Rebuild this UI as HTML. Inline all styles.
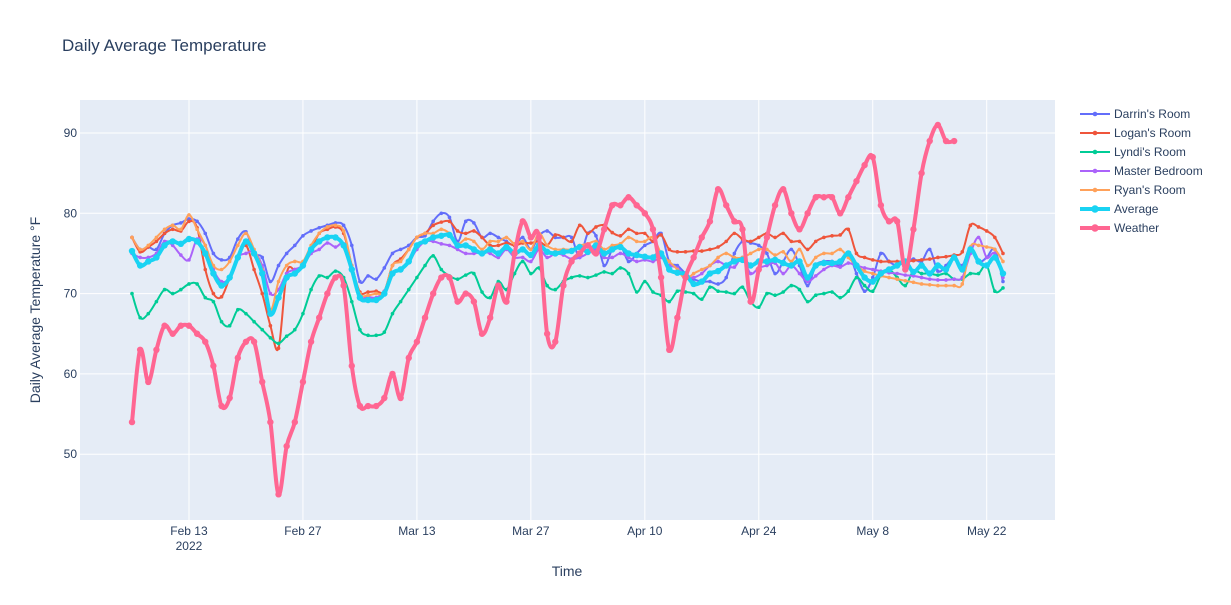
<!DOCTYPE html>
<html><head><meta charset="utf-8">
<style>
body{margin:0;background:#fff;font-family:"Liberation Sans",Arial,sans-serif;}
svg text{font-family:"Liberation Sans",Arial,sans-serif;}
</style></head>
<body>
<svg id="chart" width="1231" height="600" xmlns="http://www.w3.org/2000/svg">
<rect width="1231" height="600" fill="#fff"/>
<text x="62" y="51" font-size="17" fill="#2a3f5f">Daily Average Temperature</text>
<rect x="80" y="100" width="975" height="420" fill="#e5ecf6"/>
<g id="grid"></g>
<g id="series"></g>
<text x="567" y="576" font-size="14" fill="#2a3f5f" text-anchor="middle">Time</text>
<text transform="translate(40,310) rotate(-90)" font-size="14" fill="#2a3f5f" text-anchor="middle">Daily Average Temperature °F</text>
<g id="legend"></g>
</svg>
<script>
const tickDays=[7,21,35,49,63,77,91,105];
const tickLabels=["Feb 13","Feb 27","Mar 13","Mar 27","Apr 10","Apr 24","May 8","May 22"];
const yTicks=[50,60,70,80,90];
const seriesNames=["Darrin's Room","Logan's Room","Lyndi's Room","Master Bedroom","Ryan's Room","Average","Weather"];
const darrin=[77,75.5,75.8,75.5,77.5,78.5,78.8,79.3,79,77.5,75,74.2,74.5,76.8,77.7,75,74.5,71.5,73.5,75,76,77.2,77.8,78.2,78.5,78.8,78.5,76,71.5,72.2,71.8,73.2,75,75.5,76,77,77.2,79,80,79.5,76.5,79,78.8,77,77.5,77,76.5,76,77,75.5,77.2,77.8,77,77,77,74.5,77.5,77.2,73.5,75.5,76,74,75,76,76.5,77.5,74,73.5,72.5,71.8,71.5,71.5,71.2,72,75,76.5,76.3,76,75,72.5,74,75.5,73.5,71,73.5,74,74,73.5,75,72.5,70.3,72,75,74,73.5,74,74.3,74,75.5,72.8,73.5,74.5,73.5,75.8,74,74.5,75.5,71.5];
const logan=[77,75.2,75.8,76.5,77.5,78,77.8,79,78.2,73,70,69.6,72,74.5,76,73,70,66,63.2,72.5,73,73.5,75.5,77.5,78,78.3,77.5,73.5,70.2,70.2,70.3,70.3,73.5,74.3,75.5,77,77.5,78.5,78.9,79,77.8,77.5,77.8,77,76,76,76.3,76,76.3,76.3,76.5,76,77.3,77,76.5,78.5,77.5,78.3,78.5,77.6,77.2,78,77.5,77.5,76.5,77.3,75.5,75.2,75.2,75.3,75.3,75.5,75.8,76.5,77.5,76.8,76.5,77,77.5,77,77.5,76.5,76.5,75.5,76.5,77,77.2,77.3,78,75,74.5,74.2,74,74,74,74,74.1,74.2,74.3,74.5,74.6,74.8,75.2,78.5,78.3,77.8,77,75];
const lyndi=[70,67,67.5,69,70.5,70,70.5,71.2,71.2,69.5,69,66.5,66,68,67.5,66.5,65.5,64.5,63.8,64.7,65.5,67.5,70.5,72.2,72,72.8,72,69,65.5,64.8,64.8,65.2,67.5,69,70.5,72,73.5,74.7,73,72.2,71.8,72.3,72.5,70.2,69.5,71.5,70.5,72.5,74,72.5,73.2,71,70.5,71.5,72,72.2,72,72.3,72.7,72.5,73.2,72.5,70.2,71.5,70.2,69.8,69,70.3,70.2,70,69.3,70.8,70.3,70.2,70,70.8,69,68.3,70,69.8,70.2,71,70.5,69,69.8,70,70.2,69.5,70.3,72,71,70.3,72.3,73,72,71,72.8,72.5,72.5,72.3,72.5,71.8,71.8,72.5,72.5,73.5,70.3,70.7];
const master=[75,74.5,74.5,75,76.5,76,74.8,74.2,76.8,76,73,71.5,72,74.5,75,75.2,73.5,70,70.5,72.5,73,73.5,75,75.5,76.3,75.8,76.2,73.5,69.7,69.6,69.5,70.3,72.5,73,74,75.5,76.5,76.5,76.2,76,75.5,75,75,75.2,75,74.5,75.5,74.5,74.5,74,75.5,74.5,75,74.8,74.3,74.5,75,75.5,74.5,74.5,75,74.5,74,74.2,74,74.5,73.5,73.2,72,72,72.5,73.5,74,73.5,73.3,74.5,72.5,73.2,73.5,73.8,72.5,73.5,72.5,71.5,72.2,73,73.5,73.3,73.8,73.5,73.2,73,72.8,72.6,72.5,72.3,72.2,72,71.8,71.7,71.7,71.8,72,75,77,74.5,75,72];
const ryan=[77,75.5,76,77,78,78.5,78,79.8,78,76,73.5,73,74,76,77.5,75.5,73,68,71.5,73.5,74,74,76,77.5,78.3,78.5,77.8,73.5,70,69.8,70,70.2,73.5,74,75.5,77,77.5,77.5,78,77.5,76.2,76.8,76.5,75.5,76.5,76.5,77,76.2,76.5,75.5,77.5,76,75.5,75.5,75.5,76,76.2,76.5,75.5,76,76.2,77,76.5,76.5,77,75,74,73,71.8,72.5,73,73.5,74.5,75,74.5,74.5,75,75.5,75.5,74.8,75.2,74,75.5,73.5,74.5,75,75,75.5,74.5,73.5,72.8,72.5,72.2,72,71.8,71.6,71.4,71.2,71.1,71,71,71,71.2,75.8,76,75.8,75.5,74];
const average=[75.3,73.5,74,74.5,76,76.5,76.2,76.8,76.5,75,72.5,71,72,74.5,76.5,75,72.5,67.5,69.5,72,72.5,73.5,75.5,76.5,77,77,76,73,69.5,69.2,69.2,70,72.5,73,74,76,76.5,77,77.2,77.3,76,76,75.5,75,75.5,75,75.8,75,75.5,74.8,76,75.2,75,75.2,75.3,75.8,75.2,76,75,75.5,75.8,75,74.8,74.6,74.5,75,73,72.6,72.4,71.2,71.5,72.5,72.8,73.5,74,74.2,73.5,74,74,74.2,73.8,73.5,74,72,73.5,73.8,73.8,74,75,73.5,72,71.5,72.5,73,73.5,74,72.7,73.5,72.5,73.5,73,74.5,73,75.5,74,73.5,74.5,72.5];
const weather=[54,63,59,63,66,65,66,66,65,64,61,56,57,62,64,64,59,54,45,51,54,59,64,67,70,72,71,61,56,56,56,57,60,57,62,64,67,70,72,72,69,70,69,65,67,71,69,75,79,77,77,65,64,71,74,75,76,75,78,81,81,82,81,80,78,72,63,67,72,74.5,77,79,83,81,79,78,69,73,77,81,83,80,78,80,82,82,82,80,82,84,86,87,81,79,79,73,78,85,89,91,89,89];

const NS="http://www.w3.org/2000/svg";
const X0=80,X1=1055,Y0=100,Y1=520;
function xs(d){return 132+d*8.14;}
function ys(v){return 133+(90-v)*8.03;}
const grid=document.getElementById('grid');
function mk(tag,attrs,parent){const e=document.createElementNS(NS,tag);for(const k in attrs)e.setAttribute(k,attrs[k]);parent.appendChild(e);return e;}
tickDays.forEach((d,i)=>{
  const l=mk('line',{x1:xs(d),x2:xs(d),y1:Y0,y2:Y1,stroke:'#fff','stroke-width':1},grid);
  
  
  const t=mk('text',{x:xs(d),y:535,'font-size':12,fill:'#2a3f5f','text-anchor':'middle'},grid);
  t.textContent=tickLabels[i];
  
  
});
const yr=mk('text',{x:xs(7),y:550,'font-size':12,fill:'#2a3f5f','text-anchor':'middle'},grid);
yr.textContent='2022';


yTicks.forEach(v=>{
  const l=mk('line',{x1:X0,x2:X1,y1:ys(v),y2:ys(v),stroke:'#fff','stroke-width':1},grid);
  
  
  const t=mk('text',{x:X0-3,y:ys(v)+4,'font-size':12,fill:'#2a3f5f','text-anchor':'end'},grid);
  t.textContent=v;
  
  
});
function pathOf(vals){
  const p=vals.map((v,i)=>[xs(i),ys(v)]);
  let d='M'+p[0][0]+','+p[0][1];
  const t=0.5/3*2;
  for(let i=0;i<p.length-1;i++){
    const a=p[i-1]||p[i],b=p[i],c=p[i+1],e=p[i+2]||c;
    const c1=[b[0]+(c[0]-a[0])/6,b[1]+(c[1]-a[1])/6];
    const c2=[c[0]-(e[0]-b[0])/6,c[1]-(e[1]-b[1])/6];
    d+=` C${c1[0].toFixed(1)},${c1[1].toFixed(1)} ${c2[0].toFixed(1)},${c2[1].toFixed(1)} ${c[0].toFixed(1)},${c[1].toFixed(1)}`;
  }
  return d;
}
const allData=[darrin,logan,lyndi,master,ryan,average,weather];
const colors=['#636efa','#ef553b','#00cc96','#ab63fa','#ffa15a','#19d3f3','#ff6692'];
const widths=[2,2,2,2,2,4,4];
const msz=[1.8,1.8,1.8,1.8,1.8,3.2,3.2];
const keys=['darrin','logan','lyndi','master-bedroom','ryan','average','weather'];
const sg=document.getElementById('series');
allData.forEach((vals,k)=>{
  const g=mk('g',{},sg);
  
  
  const p=mk('path',{d:pathOf(vals),fill:'none',stroke:colors[k],'stroke-width':widths[k],'stroke-linejoin':'round'},g);
  
  
  vals.forEach((v,i)=>{
    const c=mk('circle',{cx:xs(i),cy:ys(v),r:msz[k],fill:colors[k]},g);
    
    
  });
});
const lg=document.getElementById('legend');
seriesNames.forEach((n,k)=>{
  const y=114+k*19;
  const g=mk('g',{},lg);
  
  
  mk('line',{x1:1080,x2:1110,y1:y,y2:y,stroke:colors[k],'stroke-width':widths[k]},g);
  mk('circle',{cx:1095,cy:y,r:msz[k]+0.5,fill:colors[k]},g);
  const t=mk('text',{x:1114,y:y+4,'font-size':12,fill:'#2a3f5f'},g);
  t.textContent=n;
});
</script>
</body></html>
